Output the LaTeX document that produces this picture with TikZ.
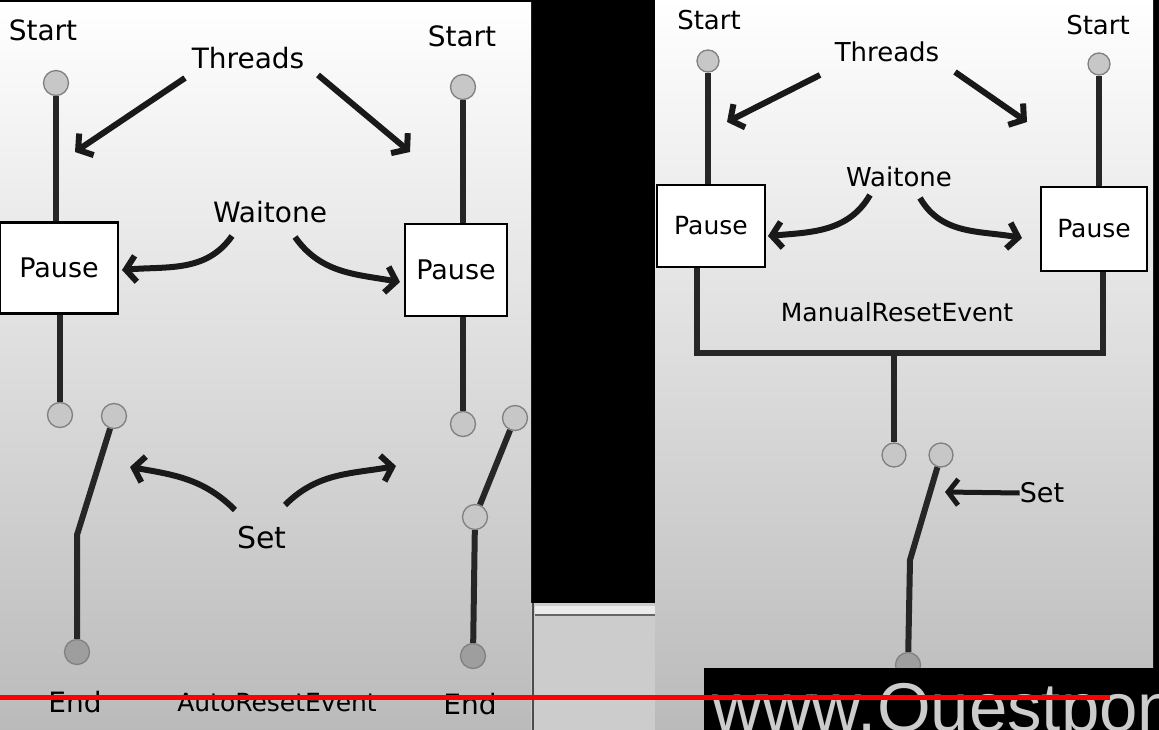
\documentclass[tikz,border=0pt]{standalone}
\usepackage{fontspec}
\setmainfont{DejaVu Sans}
\newfontfamily\wmfont{Liberation Sans}
\usetikzlibrary{arrows.meta}

\begin{document}
\begin{tikzpicture}
[
    x=1pt, y=-1pt,
    wire/.style={line width=6pt, black!85},
    pin/.style={circle, draw=black!50, fill=black!22, line width=1.3pt, minimum size=25pt, inner sep=0pt},
    endpin/.style={pin, fill=black!38},
    pausebox/.style={draw, line width=2.8pt, fill=white, inner sep=0pt, font=\fontsize{27}{30}\selectfont},
    lbl/.style={font=\fontsize{28}{32}\selectfont, inner sep=0pt},
    small/.style={font=\fontsize{25}{30}\selectfont, inner sep=0pt},
    point/.style={line width=6pt, black!90, -{Straight Barb[length=10pt, width=26pt]}},
]
\useasboundingbox (0,0) rectangle (1159,730);
\clip (0,0) rectangle (1159,730);
\fill[black] (0,0) rectangle (1159,730);
\shade[top color=white, middle color=white, bottom color=black!27] (0,3) rectangle (531,730);
\shade[top color=white, middle color=white, bottom color=black!27] (655,0) rectangle (1153,730);
\fill[black!20] (531,603) rectangle (655,730);
\fill[black!8] (535,606) rectangle (655,614);
\draw[black!60, line width=1.5pt] (535,615) -- (655,615);
\draw[black!70, line width=2pt] (533,603) -- (533,730);

\node[lbl] (startA) at (43,30) {Start};
\node[lbl] (startB) at (462,36) {Start};
\node[lbl] (threadsL) at (248,58) {Threads};
\node[lbl] (waitL) at (270,212) {Waitone};
\node[lbl, font=\fontsize{30}{34}\selectfont] (setL) at (262,538) {Set};
\node[lbl] (endA) at (75,702) {End};
\node[lbl] (endB) at (470,704) {End};
\node[small] (autoL) at (277,703) {AutoResetEvent};
\node[pin] (topA) at (56,83) {};
\node[pin] (topB) at (463,87) {};
\node[pausebox, minimum width=118pt, minimum height=91pt] (pauseA) at (59,268) {Pause};
\node[pausebox, minimum width=102pt, minimum height=92pt] (pauseB) at (456,270) {Pause};
\node[pin] (openA) at (60,415) {};
\node[pin] (swA) at (114,416) {};
\node[endpin] (lastA) at (77,652) {};
\node[pin] (openB) at (463,424) {};
\node[pin] (swB) at (515,418) {};
\node[pin] (midB) at (475,517) {};
\node[endpin] (lastB) at (473,656) {};
\coordinate (kneeA) at (77,535);
\draw[wire] (topA) -- (topA |- pauseA.north);
\draw[wire] (pauseA.south -| openA) -- (openA);
\draw[wire] (swA) -- (kneeA) -- (lastA);
\draw[wire] (topB) -- (topB |- pauseB.north);
\draw[wire] (pauseB.south -| openB) -- (openB);
\draw[wire] (swB) -- (midB) -- (lastB);
\coordinate (thA) at (185,78);
\coordinate (thAtip) at (75,152);
\coordinate (thB) at (318,75);
\coordinate (thBtip) at (410,152);
\coordinate (wtA) at (232,236);
\coordinate (wtAtip) at (122,270);
\coordinate (wtB) at (295,237);
\coordinate (wtBtip) at (400,282);
\coordinate (stA) at (235,510);
\coordinate (stAtip) at (130,467);
\coordinate (stB) at (285,505);
\coordinate (stBtip) at (396,466);
\draw[point] (thA) -- (thAtip);
\draw[point] (thB) -- (thBtip);
\draw[point] (wtA) to[out=235, in=5] (wtAtip);
\draw[point] (wtB) to[out=305, in=170] (wtBtip);
\draw[point] (stA) to[out=135, in=-10] (stAtip);
\draw[point] (stB) to[out=45, in=190] (stBtip);

\node[lbl, font=\fontsize{26}{30}\selectfont] (startC) at (709,20) {Start};
\node[lbl, font=\fontsize{26}{30}\selectfont] (startD) at (1098,25) {Start};
\node[lbl, font=\fontsize{26}{30}\selectfont] (threadsR) at (887,52) {Threads};
\node[lbl, font=\fontsize{26}{30}\selectfont] (waitR) at (899,177) {Waitone};
\node[small] (manual) at (897,312) {ManualResetEvent};
\node[lbl, font=\fontsize{27}{30}\selectfont] (setR) at (1042,493) {Set};
\node[pin, minimum size=22pt] (topC) at (708,61) {};
\node[pin, minimum size=22pt] (topD) at (1099,64) {};
\node[pausebox, minimum width=108pt, minimum height=82pt, font=\fontsize{25}{30}\selectfont] (pauseC) at (711,226) {Pause};
\node[pausebox, minimum width=106pt, minimum height=84pt, font=\fontsize{25}{30}\selectfont] (pauseD) at (1094,229) {Pause};
\node[pin, minimum size=24pt] (openC) at (894,455) {};
\node[pin, minimum size=24pt] (swC) at (941,455) {};
\node[endpin] (lastC) at (908,665) {};
\coordinate (barA) at (697,353);
\coordinate (barB) at (1103,353);
\coordinate (barM) at (894,353);
\coordinate (kneeC) at (910,560);
\draw[wire] (topC) -- (topC |- pauseC.north);
\draw[wire] (topD) -- (topD |- pauseD.north);
\draw[wire] (pauseC.south -| barA) -- (barA) -- (barB) -- (pauseD.south -| barB);
\draw[wire] (barM) -- (openC);
\draw[wire] (swC) -- (kneeC) -- (lastC);
\coordinate (thC) at (820,75);
\coordinate (thCtip) at (727,122);
\coordinate (thD) at (955,72);
\coordinate (thDtip) at (1027,122);
\coordinate (wtC) at (870,195);
\coordinate (wtCtip) at (768,236);
\coordinate (wtD) at (920,198);
\coordinate (wtDtip) at (1022,238);
\coordinate (stCtip) at (945,492);
\draw[point] (thC) -- (thCtip);
\draw[point] (thD) -- (thDtip);
\draw[point] (wtC) to[out=240, in=5] (wtCtip);
\draw[point] (wtD) to[out=300, in=170] (wtDtip);
\draw[point, line width=5pt] (setR.west) -- (stCtip);

\fill[black] (704,668) rectangle (1159,730);
\node[anchor=base west, text=black!20, font=\wmfont\fontsize{69}{70}\selectfont, inner sep=0pt] (mark) at (712,731) {www.Questpon};
\draw[red, line width=5pt] (0,697) -- (1110,697);
\end{tikzpicture}
\end{document}
